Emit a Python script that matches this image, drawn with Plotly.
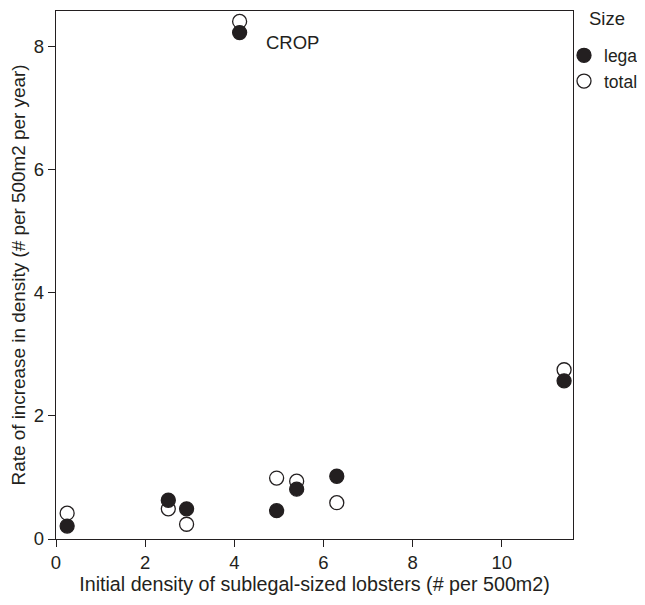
import plotly.graph_objects as go

density = [0.25, 2.52, 2.93, 4.12, 4.95, 5.40, 6.30, 11.40]
legal = [0.21, 0.63, 0.49, 8.23, 0.46, 0.81, 1.02, 2.57]
total = [0.42, 0.49, 0.24, 8.41, 0.99, 0.94, 0.59, 2.75]
x_ticks = [0, 2, 4, 6, 8, 10]
y_ticks = [0, 2, 4, 6, 8]

ink = "#231f20"
font = "Liberation Sans, Arial, sans-serif"
fs = 18.5
tfs = 19.7
yfs = 18.9
lfs = 17.5

fig = go.Figure()
fig.add_trace(go.Scatter(
    x=density, y=total, mode="markers", name="total",
    marker=dict(size=14, color="white", line=dict(color=ink, width=1.3)),
))
fig.add_trace(go.Scatter(
    x=density, y=legal, mode="markers", name="legal",
    marker=dict(size=14, color=ink, line=dict(color=ink, width=1.3)),
))

fig.add_annotation(x=5.3, y=8.07, text="CROP", showarrow=False,
                   font=dict(size=fs, color=ink, family=font))
fig.add_annotation(xref="paper", yref="paper", x=1.027, y=1.0, xanchor="left",
                   yanchor="top", yshift=5, text="Size", showarrow=False,
                   font=dict(size=fs, color=ink, family=font))

axis_common = dict(
    showgrid=False, zeroline=False, showline=True, linecolor=ink, linewidth=1.4,
    mirror=True, ticks="outside", ticklen=7, tickcolor=ink, tickwidth=1.4,
    tickfont=dict(size=fs, color=ink, family=font),
)

fig.update_layout(
    width=645, height=605,
    margin=dict(l=48, r=80, t=3, b=74, autoexpand=False),
    plot_bgcolor="white", paper_bgcolor="white",
    font=dict(family=font, color=ink, size=fs),
    xaxis=dict(range=[0, 11.6], tickvals=x_ticks,
               title=dict(text="Initial density of sublegal-sized lobsters (# per 500m2)",
                          font=dict(size=tfs, color=ink), standoff=1),
               **axis_common),
    yaxis=dict(range=[0, 8.58], tickvals=y_ticks,
               title=dict(text="Rate of increase in density (# per 500m2 per year)",
                          font=dict(size=yfs, color=ink), standoff=6),
               **axis_common),
    showlegend=True,
    legend=dict(x=0.9826, y=0.95, xanchor="left", yanchor="top",
                traceorder="reversed", bgcolor="rgba(0,0,0,0)",
                font=dict(size=lfs, color=ink), itemwidth=30),
)

fig.write_html("out.html")
